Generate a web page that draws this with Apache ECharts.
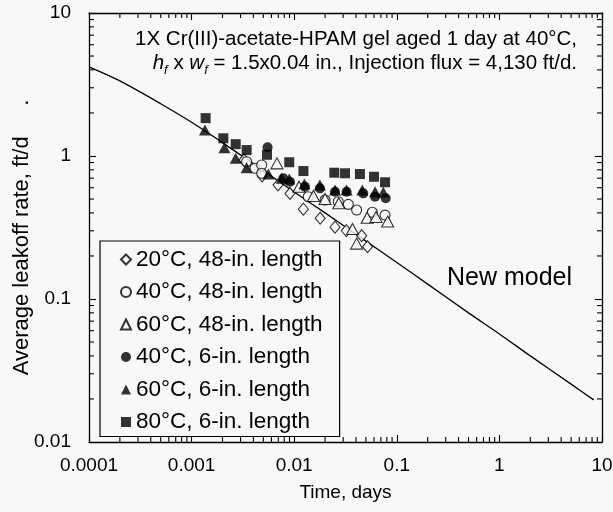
<!DOCTYPE html>
<html>
<head>
<meta charset="utf-8">
<script src="https://cdn.jsdelivr.net/npm/echarts@6/dist/echarts.min.js"></script>
<style>
html,body{margin:0;padding:0;background:#f8f8f8;}
#chart{width:613px;height:512px;}
</style>
</head>
<body>
<div id="chart"></div>
<script>
// ---- data ----
const xTickValues = [0.0001, 0.001, 0.01, 0.1, 1, 10];
const xTickLabels = ['0.0001', '0.001', '0.01', '0.1', '1', '10'];
const yTickValues = [0.01, 0.1, 1, 10];
const yTickLabels = ['0.01', '0.1', '1', '10'];
const minorMultipliers = [2, 3, 4, 5, 6, 7, 8, 9];

const seriesNames = [
  '20°C, 48-in. length',
  '40°C, 48-in. length',
  '60°C, 48-in. length',
  '40°C, 6-in. length',
  '60°C, 6-in. length',
  '80°C, 6-in. length'
];

const diamond20_48 = [[0.00324,0.938],[0.00487,0.725],[0.00695,0.627],[0.0091,0.547],[0.01228,0.425],[0.0179,0.367],[0.025,0.318],[0.0322,0.301],[0.0455,0.277],[0.0518,0.232]];
const circle40_48 = [[0.00344,0.912],[0.00415,0.821],[0.00482,0.865],[0.00482,0.757],[0.0137,0.519],[0.0200,0.492],[0.0269,0.479],[0.0337,0.459],[0.0406,0.419],[0.0577,0.404],[0.0768,0.386]];
const triangle60_48 = [[0.00679,0.888],[0.01115,0.610],[0.0154,0.525],[0.0200,0.500],[0.0272,0.467],[0.0370,0.309],[0.0406,0.244],[0.0514,0.370],[0.0627,0.374],[0.0815,0.348]];
const circle40_6 = [[0.0055,1.15],[0.00784,0.698],[0.0091,0.661],[0.01273,0.610],[0.0178,0.594],[0.025,0.562],[0.0324,0.562],[0.0471,0.548],[0.0614,0.519],[0.078,0.506]];
const triangle60_6 = [[0.00135,1.52],[0.00209,1.14],[0.00269,0.964],[0.00344,0.828],[0.0056,0.748],[0.00755,0.698],[0.00895,0.690],[0.01256,0.637],[0.0178,0.627],[0.025,0.578],[0.0324,0.578],[0.0461,0.578],[0.0614,0.562],[0.0740,0.557]];
const square80_6 = [[0.00137,1.84],[0.00204,1.33],[0.00269,1.21],[0.00344,1.10],[0.00543,1.02],[0.00895,0.904],[0.0123,0.785],[0.0246,0.764],[0.0313,0.757],[0.0437,0.748],[0.0600,0.716],[0.0768,0.655]];

const modelT = [0.0001,0.0002,0.0005,0.001,0.002,0.005,0.01,0.02,0.05,0.1,0.2,0.5,1,2,5,8.3];
const modelU = [4.2,3.35,2.32,1.72,1.24,0.79,0.56,0.40,0.254,0.18,0.127,0.080,0.057,0.040,0.0254,0.0197];

// ---- build ----
const FONT = '"Liberation Sans", Arial, sans-serif';
const BG = '#f8f8f8';
const TICK = '#000';
const X_MIN = 0.0001, X_MAX = 10, Y_MIN = 0.01, Y_MAX = 10;

function labelFor(values, labels) {
  return function (v) {
    for (let i = 0; i < values.length; i++) {
      if (Math.abs(Math.log10(v) - Math.log10(values[i])) < 1e-6) return labels[i];
    }
    return '';
  };
}

const xMinor = [], yMinor = [];
for (let i = 0; i < xTickValues.length - 1; i++) minorMultipliers.forEach(m => xMinor.push([xTickValues[i] * m, Y_MIN]));
for (let i = 0; i < yTickValues.length - 1; i++) minorMultipliers.forEach(m => yMinor.push([X_MIN, yTickValues[i] * m]));

const hollow = { color: BG, borderColor: '#000', borderWidth: 1.1 };
const filled = { color: '#000', borderColor: '#000', borderWidth: 0 };

const chart = echarts.init(document.getElementById('chart'), null, { renderer: 'canvas' });
chart.setOption({
  backgroundColor: BG,
  animation: false,
  textStyle: { fontFamily: FONT },
  grid: { left: 89, right: 11, top: 13, bottom: 70, containLabel: false, outerBoundsMode: 'none' },
  xAxis: [{
    type: 'log', logBase: 10, min: X_MIN, max: X_MAX,
    name: 'Time, days', nameLocation: 'middle', nameGap: 41, nameMoveOverlap: false,
    nameTextStyle: { fontFamily: FONT, fontSize: 19, color: '#000' },
    axisLine: { show: true, lineStyle: { color: '#000', width: 1.3 } },
    axisTick: { show: true, inside: true, length: 7, lineStyle: { color: TICK, width: 1.1 } },
    axisLabel: { show: true, margin: 14, fontFamily: FONT, fontSize: 19, color: '#000', formatter: labelFor(xTickValues, xTickLabels) },
    splitLine: { show: false }
  }, {
    type: 'log', logBase: 10, min: X_MIN, max: X_MAX, position: 'top',
    axisLine: { show: true, lineStyle: { color: '#000', width: 1.3 } },
    axisTick: { show: true, inside: true, length: 7, lineStyle: { color: TICK, width: 1.1 } },
    axisLabel: { show: false }, splitLine: { show: false }
  }],
  yAxis: [{
    type: 'log', logBase: 10, min: Y_MIN, max: Y_MAX,
    name: 'Average leakoff rate, ft/d     .', nameLocation: 'middle', nameGap: 56, nameMoveOverlap: false,
    nameTextStyle: { fontFamily: FONT, fontSize: 22, color: '#000', padding: [0, 20, 0, 0] },
    axisLine: { show: true, lineStyle: { color: '#000', width: 1.3 } },
    axisTick: { show: true, inside: true, length: 7, lineStyle: { color: TICK, width: 1.1 } },
    axisLabel: { show: true, margin: 18, fontFamily: FONT, fontSize: 19, color: '#000', formatter: labelFor(yTickValues, yTickLabels) },
    splitLine: { show: false }
  }, {
    type: 'log', logBase: 10, min: Y_MIN, max: Y_MAX, position: 'right',
    axisLine: { show: true, lineStyle: { color: '#000', width: 1.3 } },
    axisTick: { show: true, inside: true, length: 7, lineStyle: { color: TICK, width: 1.1 } },
    axisLabel: { show: false }, splitLine: { show: false }
  }],
  legend: {
    orient: 'vertical', left: 100, top: 241,
    data: seriesNames,
    itemWidth: 10, itemHeight: 10, itemGap: 9.5,
    padding: [7, 17, 3, 20],
    borderColor: '#000', borderWidth: 1.2, backgroundColor: BG,
    textStyle: { fontFamily: FONT, fontSize: 22.5, color: '#000', lineHeight: 22 },
    selectedMode: false
  },
  graphic: [
    { type: 'text', right: 36, top: 29, style: { text: '1X Cr(III)-acetate-HPAM gel aged 1 day at 40°C,', font: '20.5px ' + FONT, fill: '#000' } },
    { type: 'text', right: 36, top: 52, style: {
        text: '{i|h}{s|f} x {i|w}{s|f} = 1.5x0.04 in., Injection flux = 4,130 ft/d.',
        font: '20.5px ' + FONT, fill: '#000', lineHeight: 22,
        rich: {
          i: { fontFamily: FONT, fontSize: 20.5, fontStyle: 'italic', lineHeight: 22 },
          s: { fontFamily: FONT, fontSize: 13, fontStyle: 'italic', lineHeight: 13, verticalAlign: 'bottom', padding: [0, 0, -3, 0] }
        } } },
    { type: 'text', left: 447, top: 266, style: { text: 'New model', font: '25px ' + FONT, fill: '#000' } }
  ],
  series: [
    { name: seriesNames[0], type: 'scatter', data: diamond20_48, symbol: 'diamond', symbolSize: [10, 12], itemStyle: hollow, z: 3 },
    { name: seriesNames[1], type: 'scatter', data: circle40_48, symbol: 'circle', symbolSize: 10, itemStyle: hollow, z: 3 },
    { name: seriesNames[2], type: 'scatter', data: triangle60_48, symbol: 'triangle', symbolSize: [12, 11], itemStyle: hollow, z: 3 },
    { name: seriesNames[3], type: 'scatter', data: circle40_6, symbol: 'circle', symbolSize: 10, itemStyle: filled, z: 4 },
    { name: seriesNames[4], type: 'scatter', data: triangle60_6, symbol: 'triangle', symbolSize: [12, 11], itemStyle: filled, z: 4 },
    { name: seriesNames[5], type: 'scatter', data: square80_6, symbol: 'rect', symbolSize: 10, itemStyle: filled, z: 4 },
    { name: 'New model', type: 'line', data: modelT.map((t, i) => [t, modelU[i]]), smooth: 0.3, symbol: 'none',
      lineStyle: { color: '#000', width: 1.3 }, z: 2 },
    { name: 'xMinor', type: 'custom', data: xMinor, silent: true, clip: false, z: 5,
      renderItem: function (params, api) {
        const v = api.value(0);
        const b = api.coord([v, Y_MIN]), t = api.coord([v, Y_MAX]);
        return { type: 'group', children: [
          { type: 'line', shape: { x1: b[0], y1: b[1], x2: b[0], y2: b[1] - 5 }, style: { stroke: TICK, lineWidth: 1.1 } },
          { type: 'line', shape: { x1: t[0], y1: t[1], x2: t[0], y2: t[1] + 5 }, style: { stroke: TICK, lineWidth: 1.1 } }
        ] };
      } },
    { name: 'yMinor', type: 'custom', data: yMinor, silent: true, clip: false, z: 5,
      renderItem: function (params, api) {
        const v = api.value(1);
        const l = api.coord([X_MIN, v]), r = api.coord([X_MAX, v]);
        return { type: 'group', children: [
          { type: 'line', shape: { x1: l[0], y1: l[1], x2: l[0] + 5, y2: l[1] }, style: { stroke: TICK, lineWidth: 1.1 } },
          { type: 'line', shape: { x1: r[0], y1: r[1], x2: r[0] - 5, y2: r[1] }, style: { stroke: TICK, lineWidth: 1.1 } }
        ] };
      } }
  ]
});
</script>
</body>
</html>
